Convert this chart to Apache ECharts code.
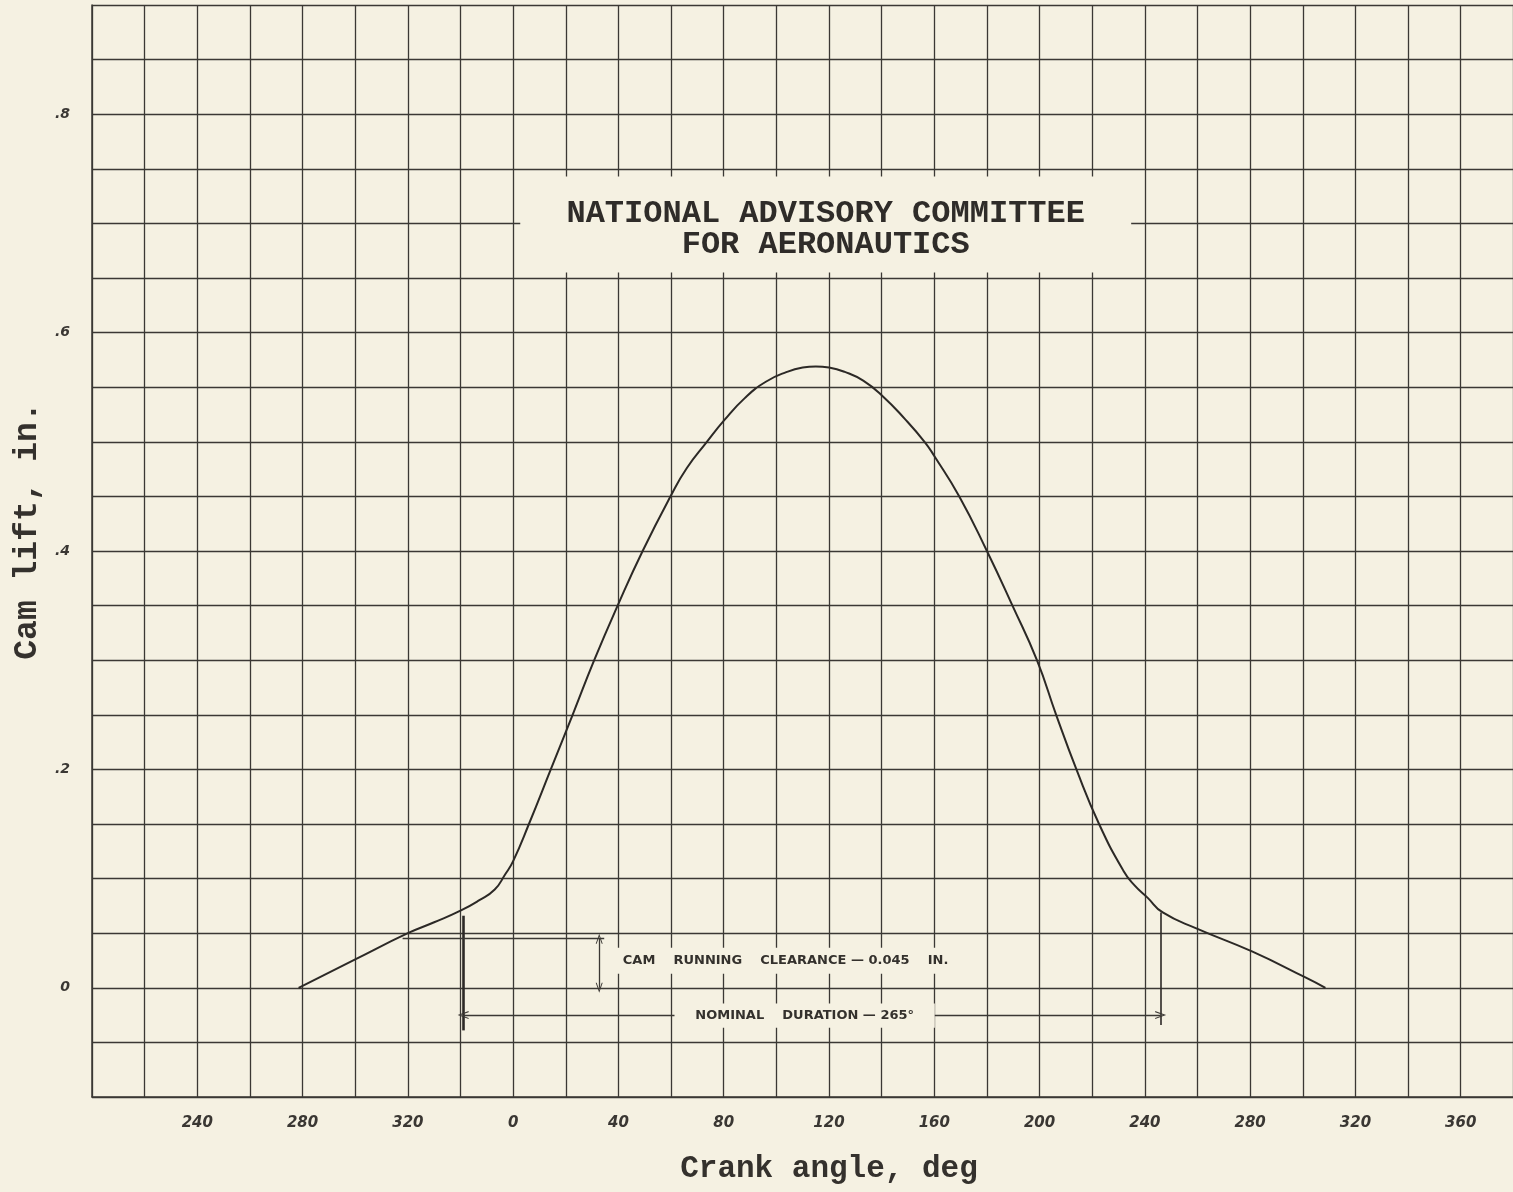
<!DOCTYPE html>
<html>
<head>
<meta charset="utf-8">
<script src="https://cdn.jsdelivr.net/npm/echarts@6/dist/echarts.min.js"></script>
<style>
html,body{margin:0;padding:0;background:#f5f1e2;overflow:hidden;}
#c{width:1513px;height:1192px;}
</style>
</head>
<body>
<div id="c"></div>
<script>
// ---- data ----
const crankAngle = [-81.5, -60, -40, -30, -20, -13, -7, -3, 0, 6, 14.3, 22.6, 30.8, 39.7, 49.2, 60, 66, 73.3, 80.3, 88, 96, 104, 110, 115, 120, 126, 133, 140.3, 148.8, 156.3, 160, 169.5, 180, 189.7, 199, 206.3, 214, 222.6, 231.9, 236, 241, 246.8, 260, 280.7, 301, 308.6];
const camLift    = [0, 0.026, 0.050, 0.060, 0.0706, 0.080, 0.090, 0.104, 0.116, 0.150, 0.200, 0.250, 0.300, 0.350, 0.400, 0.451, 0.476, 0.499, 0.520, 0.540, 0.555, 0.564, 0.568, 0.569, 0.568, 0.564, 0.556, 0.542, 0.521, 0.500, 0.487, 0.450, 0.400, 0.350, 0.300, 0.250, 0.200, 0.150, 0.107, 0.094, 0.0826, 0.069, 0.054, 0.0333, 0.0095, 0];

const xTickValues = [-120, -80, -40, 0, 40, 80, 120, 160, 200, 240, 280, 320, 360];
const xTickLabels = ['240', '280', '320', '0', '40', '80', '120', '160', '200', '240', '280', '320', '360'];
const yTickValues = [0, 0.2, 0.4, 0.6, 0.8];
const yTickLabels = ['0', '.2', '.4', '.6', '.8'];

const durationStart = -19;
const durationEnd = 246;
const runningClearance = 0.045;
const titleLines = ['NATIONAL ADVISORY COMMITTEE', 'FOR AERONAUTICS'];
const clearanceText = 'CAM    RUNNING    CLEARANCE \u2014 0.045    IN.';
const durationText = 'NOMINAL    DURATION \u2014 265\u00b0';

// ---- styling ----
const BG = '#f5f1e2';
const INK = '#3b3834';
const CURVE = '#2c2926';

function pick(v, vals, texts) {
  for (let i = 0; i < vals.length; i++) if (Math.abs(v - vals[i]) < 1e-6) return texts[i];
  return '';
}
const chevron = 'path://M0,10 L5,0 L10,10 L8.6,10 L5,2.8 L1.4,10 Z';

const chart = echarts.init(document.getElementById('c'));
const option = {
  backgroundColor: BG,
  animation: false,
  grid: { left: 92, width: 1474, top: 5, bottom: 95, outerBoundsMode: 'none', containLabel: false },
  xAxis: {
    type: 'value', min: -160, max: 400, interval: 20,
    axisLine: { onZero: false, lineStyle: { color: INK, width: 1.5 } },
    axisTick: { show: false },
    splitLine: { show: true, lineStyle: { color: INK, width: 1.3 } },
    axisLabel: {
      formatter: v => pick(v, xTickValues, xTickLabels),
      margin: 19, fontFamily: 'DejaVu Sans', fontWeight: 'bold', fontStyle: 'italic',
      fontSize: 15, color: '#3a3733'
    },
    name: 'Crank angle, deg', nameLocation: 'middle', nameGap: 57,
    nameTextStyle: { fontFamily: 'Liberation Mono', fontWeight: 'bold', fontSize: 31, color: '#34312d' }
  },
  yAxis: {
    type: 'value', min: -0.1, max: 0.9, interval: 0.05,
    axisLine: { show: true, onZero: false, lineStyle: { color: INK, width: 1.5 } },
    axisTick: { show: false },
    splitLine: { show: true, lineStyle: { color: INK, width: 1.3 } },
    axisLabel: {
      formatter: v => pick(v, yTickValues, yTickLabels),
      margin: 22, fontFamily: 'DejaVu Sans', fontWeight: 'bold', fontStyle: 'italic',
      fontSize: 14, color: '#3a3733'
    },
    name: 'Cam lift, in.', nameLocation: 'middle', nameGap: 48,
    nameTextStyle: { fontFamily: 'Liberation Mono', fontWeight: 'bold', fontSize: 33, color: '#34312d', padding: [0, 0, 0, 40] }
  },
  series: [
    {
      type: 'line', z: 3,
      data: crankAngle.map((x, i) => [x, camLift[i]]),
      showSymbol: false, smooth: 0.5,
      lineStyle: { color: CURVE, width: 2 },
      markArea: {
        silent: true,
        itemStyle: { color: BG, opacity: 1, borderWidth: 0 },
        emphasis: { disabled: true },
        data: [
          [{ coord: [2.7, 0.743], label: { show: true, position: 'inside', offset: [0, 5], formatter: titleLines.join('\n'),
              fontFamily: 'Liberation Mono', fontWeight: 'bold', fontSize: 32, lineHeight: 31, color: '#2f2c29', align: 'center' } },
           { coord: [234.8, 0.655] }],
          [{ coord: [37.3, 0.0367], label: { show: true, position: 'inside', formatter: clearanceText,
              fontFamily: 'DejaVu Sans', fontWeight: 'bold', fontSize: 13, color: '#34312d' } },
           { coord: [169.7, 0.0128] }],
          [{ coord: [61.3, -0.0144], label: { show: true, position: 'inside', formatter: durationText,
              fontFamily: 'DejaVu Sans', fontWeight: 'bold', fontSize: 13, color: '#34312d' } },
           { coord: [160.2, -0.0365] }]
        ]
      }
    },
    {
      type: 'line', data: [], z: 4,
      markLine: {
        silent: true, symbol: ['none', 'none'], label: { show: false },
        emphasis: { disabled: true },
        data: [
          [{ coord: [durationStart, 0.066], lineStyle: { width: 2.6, color: CURVE, type: 'solid' } }, { coord: [durationStart, -0.039] }],
          [{ coord: [durationEnd, 0.069], lineStyle: { width: 1.6, color: CURVE, type: 'solid' } }, { coord: [durationEnd, -0.034] }],
          [{ coord: [-42, runningClearance], lineStyle: { width: 1.3, color: INK, type: 'solid' } }, { coord: [34.6, runningClearance] }]
        ]
      }
    },
    {
      type: 'line', data: [], z: 4,
      markLine: {
        silent: true, symbol: ['none', chevron], symbolSize: [8, 11], label: { show: false },
        emphasis: { disabled: true },
        lineStyle: { width: 1.3, color: INK, type: 'solid' },
        data: [
          [{ coord: [61.3, -0.025] }, { coord: [durationStart, -0.025] }],
          [{ coord: [160.2, -0.025] }, { coord: [durationEnd, -0.025] }]
        ]
      }
    },
    {
      type: 'line', data: [], z: 4,
      markLine: {
        silent: true, symbol: [chevron, chevron], symbolSize: [7, 10], label: { show: false },
        emphasis: { disabled: true },
        lineStyle: { width: 1.3, color: INK, type: 'solid' },
        data: [
          [{ coord: [32.7, runningClearance] }, { coord: [32.7, 0] }]
        ]
      }
    }
  ]
};
chart.setOption(option);
</script>
</body>
</html>
